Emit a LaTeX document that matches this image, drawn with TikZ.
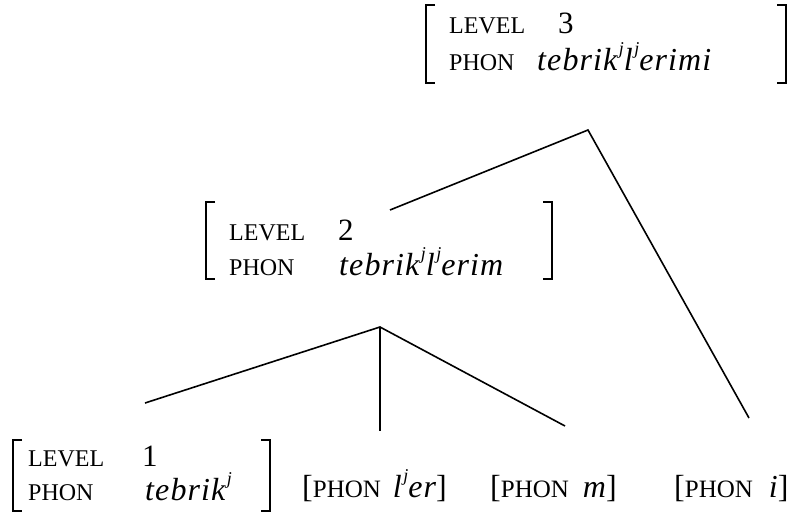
\documentclass[tikz,border=0pt]{standalone}
\usepackage{fontspec}
\setmainfont{Liberation Serif}
\newfontfamily\phonit[LetterSpace=3.5]{Liberation Serif}
\newcommand\mysup[1]{\kern1.5pt\raisebox{0.5em}{\fontsize{18}{18}\selectfont\itshape #1}}
\begin{document}
\begin{tikzpicture}[x=1pt,y=-1pt,
  feat/.style={anchor=base west,inner sep=0pt,font=\fontsize{24}{24}\selectfont},
  val/.style={anchor=base west,inner sep=0pt,font=\fontsize{31}{31}\selectfont},
  phon/.style={anchor=base west,inner sep=0pt,font=\fontsize{32}{32}\phonit\itshape},
  leaf/.style={anchor=base west,inner sep=0pt,font=\fontsize{32}{32}\selectfont},
  brk/.style={line width=1.5pt},
  edge/.style={line width=1.6pt}]
\useasboundingbox (0,0) rectangle (796,512);
% top AVM
\draw[brk] (435,5) -- (426,5) -- (426,83) -- (435,83);
\draw[brk] (777,5) -- (786,5) -- (786,83) -- (777,83);
\node[feat] (l3f) at (449,33) {LEVEL};
\node[val] (l3v) at (558,33) {3};
\node[feat] (p3f) at (449,70) {PHON};
\node[phon] (p3v) at (537,70) {tebrik\mysup{j}l\mysup{j}erimi};
% middle AVM
\draw[brk] (215,202) -- (206,202) -- (206,279) -- (215,279);
\draw[brk] (543,202) -- (552,202) -- (552,279) -- (543,279);
\node[feat] (l2f) at (229,240) {LEVEL};
\node[val] (l2v) at (338,240) {2};
\node[feat] (p2f) at (229,275) {PHON};
\node[phon] (p2v) at (339,275) {tebrik\mysup{j}l\mysup{j}erim};
% bottom AVM
\draw[brk] (22,440) -- (13,440) -- (13,511) -- (22,511);
\draw[brk] (261,440) -- (270,440) -- (270,511) -- (261,511);
\node[feat] (l1f) at (28,466) {LEVEL};
\node[val] (l1v) at (142,466) {1};
\node[feat] (p1f) at (28,500) {PHON};
\node[phon] (p1v) at (145,500) {tebrik\mysup{j}};
% leaves
\node[leaf] (lj) at (302,497) {[{\fontsize{25}{25}\selectfont PHON}\hspace{12pt}{\phonit\itshape l\mysup{j}er}]};
\node[leaf] (lm) at (490,497) {[{\fontsize{25}{25}\selectfont PHON}\hspace{14pt}{\phonit\itshape m}]};
\node[leaf] (li) at (674,497) {[{\fontsize{25}{25}\selectfont PHON}\hspace{16pt}{\phonit\itshape i}]};
% tree
\coordinate (top) at (588,130);
\coordinate (a2) at (390,210);
\coordinate (a0) at (749,418);
\coordinate (mid) at (380,327);
\coordinate (b1) at (145,403);
\coordinate (b2) at (380,431);
\coordinate (b3) at (565,426);
\draw[edge] (a2) -- (top) -- (a0);
\draw[edge] (b1) -- (mid) -- (b3);
\draw[edge] (mid) -- (b2);
\end{tikzpicture}
\end{document}
